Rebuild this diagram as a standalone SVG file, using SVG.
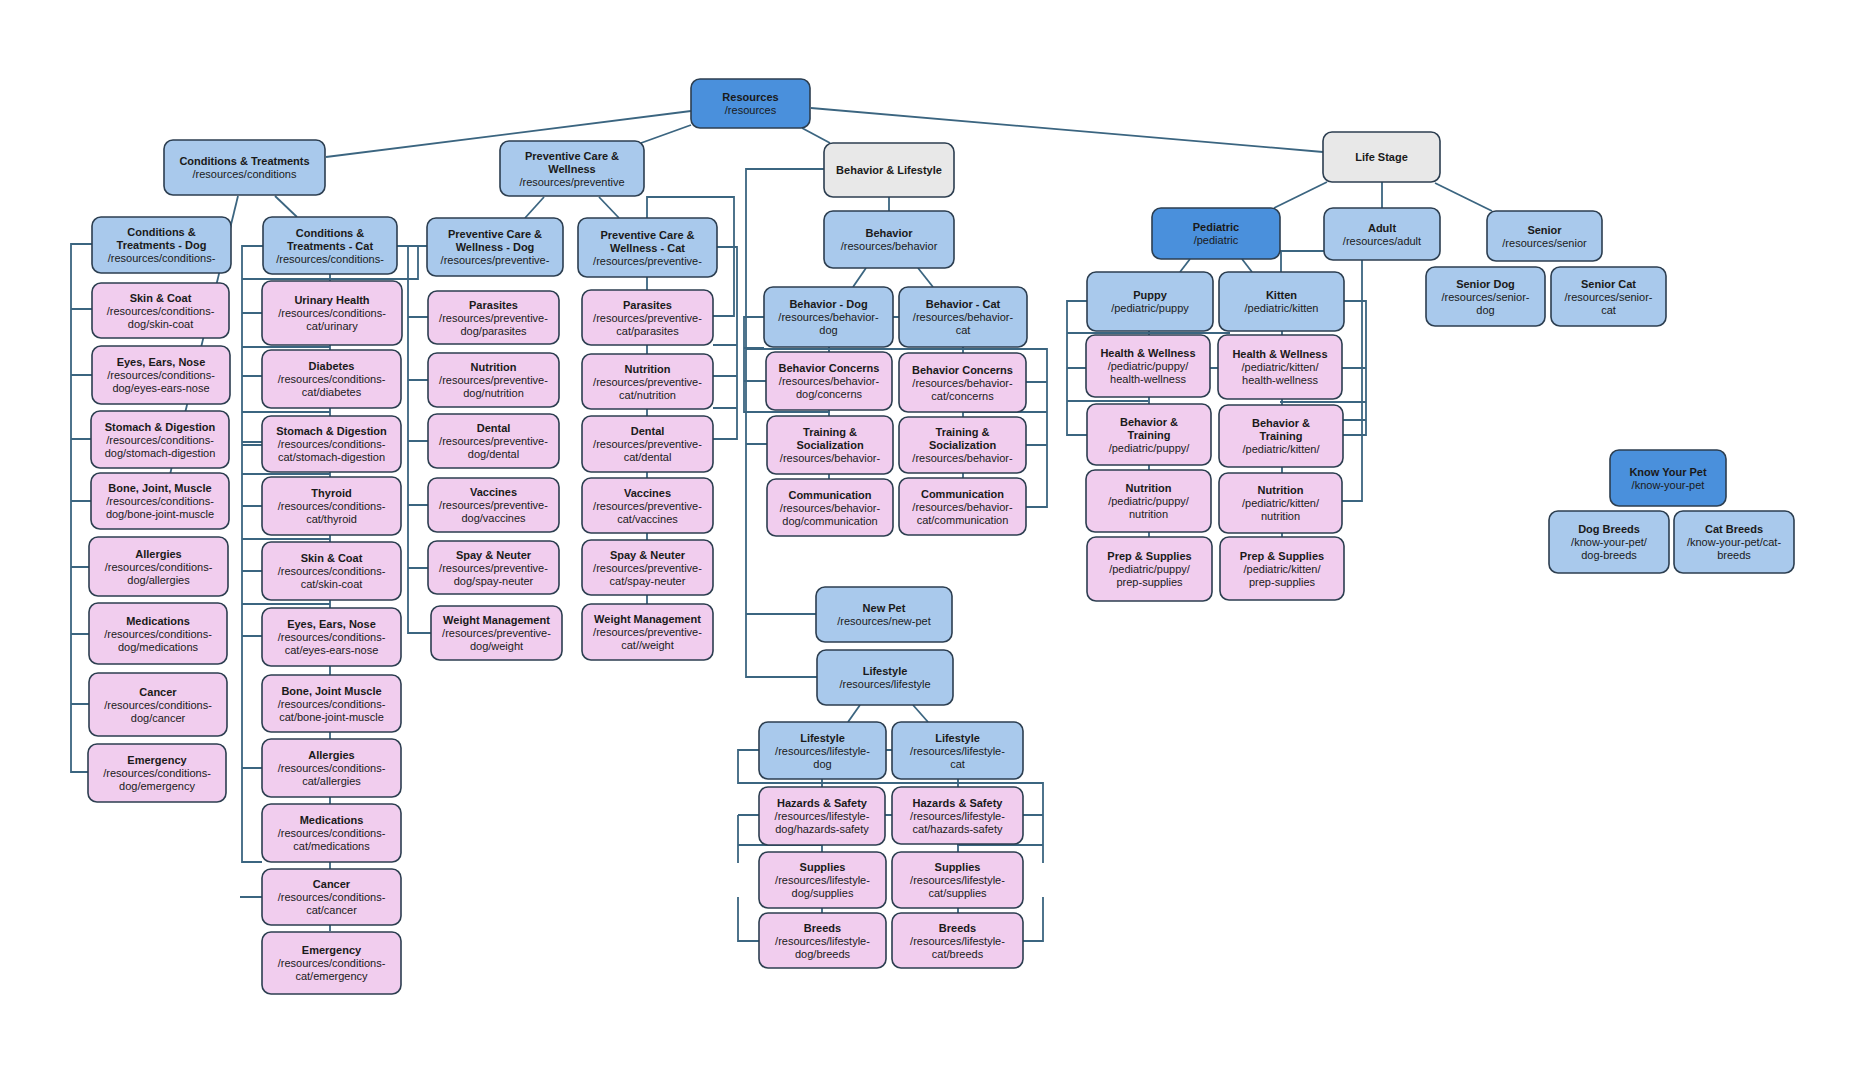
<svg xmlns="http://www.w3.org/2000/svg" width="1853" height="1074" viewBox="0 0 1853 1074">
<style>
.n rect{stroke:#2c3e50;stroke-width:1.6}
.d rect{fill:#4a90dc}
.l rect{fill:#a9c9ec}
.p rect{fill:#f1cdee}
.g rect{fill:#e8e8e8}
text{font-family:"Liberation Sans",Arial,Helvetica,sans-serif;font-size:11px;fill:#1a1a1a;text-anchor:middle}
.b{font-weight:bold}
#connectors path,#connectors line{stroke:#3b6580;stroke-width:1.8;fill:none}
</style>
<rect x="0" y="0" width="1853" height="1074" fill="#ffffff"/>
<g id="connectors">
<line x1="691" y1="111" x2="326" y2="157"/>
<line x1="691" y1="125" x2="641" y2="143"/>
<line x1="802" y1="128" x2="830" y2="143"/>
<line x1="811" y1="108" x2="1323" y2="152"/>
<line x1="238" y1="196" x2="165" y2="495"/>
<line x1="275" y1="196" x2="297" y2="217"/>
<line x1="544" y1="197" x2="525" y2="218"/>
<line x1="599" y1="197" x2="619" y2="218"/>
<line x1="889" y1="197" x2="889" y2="211"/>
<line x1="866" y1="268" x2="853" y2="287"/>
<line x1="918" y1="268" x2="933" y2="287"/>
<line x1="860" y1="705" x2="848" y2="722"/>
<line x1="913" y1="705" x2="928" y2="722"/>
<line x1="1327" y1="182" x2="1274" y2="208"/>
<line x1="1382" y1="182" x2="1382" y2="208"/>
<line x1="1435" y1="183" x2="1492" y2="211"/>
<line x1="1190" y1="259" x2="1180" y2="272"/>
<line x1="1242" y1="259" x2="1252" y2="272"/>
<path d="M92,244 H71 V772 H88 M71,309 H92 M71,375 H92 M71,439 H91 M71,501 H91 M71,567 H89 M71,634 H89 M71,704 H89"/>
<path d="M263,246 H242 V862 H262 M242,313 H262 M242,376 H262 M242,442 H262 M242,506 H262 M242,571 H262 M242,636 H262 M242,768 H262 M240,897 H262"/>
<path d="M242,279 H418 V246 M242,347 H330 M242,445 H262 M242,412 H330 M242,474 H330 M242,539 H330 M242,604 H330 M330,274 V931"/>
<path d="M397,246 H427 M408,246 V633 H431 M408,317 H428 M408,380 H428 M408,441 H428 M408,505 H428 M408,568 H428"/>
<path d="M647,277 V604 M647,218 V197 H734 V316 H713 M717,247 H737 V439 H713 M713,345 H737 M713,376 H737 M713,408 H737"/>
<path d="M824,169 H746 V677 H817 M746,614 H816 M764,317 H744 V412 H830 M746,381 H766 M746,444 H767 M893,317 H899 M746,349 H1047 V507 H1026 M1026,382 H1047 M1026,445 H1047 M963,412 H1047 M829,347 V479 M963,347 V478 M744,348 H764 M744,381 H746"/>
<path d="M759,750 H738 V783 H1043 V863 M1043,897 V941 H1023 M738,815 H759 M738,815 V863 M738,897 V941 H759 M1023,815 H1043 M738,845 H822 M957,845 H1043 M886,750 H892 M885,815 H892 M822,779 V913 M958,779 V913"/>
<path d="M1280,251 H1324 M1281,251 V272 M1087,301 H1067 V435 H1087 M1067,368 H1086 M1067,333 H1230 M1067,401 H1148 M1210,368 H1218 M1149,331 V537 M1282,331 V537 M1344,301 H1366 V435 H1343 M1342,368 H1366 M1343,420 H1366 M1280,402 H1366 M1362,260 V501 H1342"/>
</g>
<g id="resources" class="n d"><rect x="691" y="79" width="119" height="49" rx="9"/><text x="750.5"><tspan class="b" x="750.5" y="101">Resources</tspan><tspan x="750.5" y="114">/resources</tspan></text></g>
<g id="conditions" class="n l"><rect x="164" y="140" width="161" height="55" rx="9"/><text><tspan class="b" x="244.5" y="165">Conditions &amp; Treatments</tspan><tspan x="244.5" y="178">/resources/conditions</tspan></text></g>
<g id="preventive" class="n l"><rect x="500" y="141" width="144" height="55" rx="9"/><text><tspan class="b" x="572" y="159.5">Preventive Care &amp;</tspan><tspan class="b" x="572" y="172.5">Wellness</tspan><tspan x="572" y="185.5">/resources/preventive</tspan></text></g>
<g id="behavior-lifestyle" class="n g"><rect x="824" y="143" width="130" height="54" rx="9"/><text class="b" x="889" y="174">Behavior &amp; Lifestyle</text></g>
<g id="life-stage" class="n g"><rect x="1323" y="132" width="117" height="50" rx="9"/><text class="b" x="1381.5" y="161">Life Stage</text></g>

<g id="conditions-dog" class="n l"><rect x="92" y="217" width="139" height="56" rx="9"/><text><tspan class="b" x="161.5" y="236">Conditions &amp;</tspan><tspan class="b" x="161.5" y="249">Treatments - Dog</tspan><tspan x="161.5" y="262">/resources/conditions-</tspan></text></g>
<g id="dog-skin-coat" class="n p"><rect x="92" y="283" width="137" height="55" rx="9"/><text><tspan class="b" x="160.5" y="301.5">Skin &amp; Coat</tspan><tspan x="160.5" y="314.5">/resources/conditions-</tspan><tspan x="160.5" y="327.5">dog/skin-coat</tspan></text></g>
<g id="dog-eyes" class="n p"><rect x="92" y="346" width="138" height="58" rx="9"/><text><tspan class="b" x="161" y="366">Eyes, Ears, Nose</tspan><tspan x="161" y="379">/resources/conditions-</tspan><tspan x="161" y="392">dog/eyes-ears-nose</tspan></text></g>
<g id="dog-stomach" class="n p"><rect x="91" y="411" width="138" height="57" rx="9"/><text><tspan class="b" x="160" y="430.5">Stomach &amp; Digestion</tspan><tspan x="160" y="443.5">/resources/conditions-</tspan><tspan x="160" y="456.5">dog/stomach-digestion</tspan></text></g>
<g id="dog-bone" class="n p"><rect x="91" y="473" width="138" height="56" rx="9"/><text><tspan class="b" x="160" y="492">Bone, Joint, Muscle</tspan><tspan x="160" y="505">/resources/conditions-</tspan><tspan x="160" y="518">dog/bone-joint-muscle</tspan></text></g>
<g id="dog-allergies" class="n p"><rect x="89" y="537" width="139" height="59" rx="9"/><text><tspan class="b" x="158.5" y="557.5">Allergies</tspan><tspan x="158.5" y="570.5">/resources/conditions-</tspan><tspan x="158.5" y="583.5">dog/allergies</tspan></text></g>
<g id="dog-medications" class="n p"><rect x="89" y="603" width="138" height="61" rx="9"/><text><tspan class="b" x="158" y="624.5">Medications</tspan><tspan x="158" y="637.5">/resources/conditions-</tspan><tspan x="158" y="650.5">dog/medications</tspan></text></g>
<g id="dog-cancer" class="n p"><rect x="89" y="673" width="138" height="63" rx="9"/><text><tspan class="b" x="158" y="695.5">Cancer</tspan><tspan x="158" y="708.5">/resources/conditions-</tspan><tspan x="158" y="721.5">dog/cancer</tspan></text></g>
<g id="dog-emergency" class="n p"><rect x="88" y="744" width="138" height="58" rx="9"/><text><tspan class="b" x="157" y="764">Emergency</tspan><tspan x="157" y="777">/resources/conditions-</tspan><tspan x="157" y="790">dog/emergency</tspan></text></g>

<g id="conditions-cat" class="n l"><rect x="263" y="217" width="134" height="57" rx="9"/><text><tspan class="b" x="330" y="236.5">Conditions &amp;</tspan><tspan class="b" x="330" y="249.5">Treatments - Cat</tspan><tspan x="330" y="262.5">/resources/conditions-</tspan></text></g>
<g id="cat-urinary" class="n p"><rect x="262" y="281" width="140" height="64" rx="9"/><text><tspan class="b" x="332" y="304">Urinary Health</tspan><tspan x="332" y="317">/resources/conditions-</tspan><tspan x="332" y="330">cat/urinary</tspan></text></g>
<g id="cat-diabetes" class="n p"><rect x="262" y="350" width="139" height="58" rx="9"/><text><tspan class="b" x="331.5" y="370">Diabetes</tspan><tspan x="331.5" y="383">/resources/conditions-</tspan><tspan x="331.5" y="396">cat/diabetes</tspan></text></g>
<g id="cat-stomach" class="n p"><rect x="262" y="416" width="139" height="56" rx="9"/><text><tspan class="b" x="331.5" y="435">Stomach &amp; Digestion</tspan><tspan x="331.5" y="448">/resources/conditions-</tspan><tspan x="331.5" y="461">cat/stomach-digestion</tspan></text></g>
<g id="cat-thyroid" class="n p"><rect x="262" y="477" width="139" height="58" rx="9"/><text><tspan class="b" x="331.5" y="497">Thyroid</tspan><tspan x="331.5" y="510">/resources/conditions-</tspan><tspan x="331.5" y="523">cat/thyroid</tspan></text></g>
<g id="cat-skin-coat" class="n p"><rect x="262" y="542" width="139" height="58" rx="9"/><text><tspan class="b" x="331.5" y="562">Skin &amp; Coat</tspan><tspan x="331.5" y="575">/resources/conditions-</tspan><tspan x="331.5" y="588">cat/skin-coat</tspan></text></g>
<g id="cat-eyes" class="n p"><rect x="262" y="608" width="139" height="58" rx="9"/><text><tspan class="b" x="331.5" y="628">Eyes, Ears, Nose</tspan><tspan x="331.5" y="641">/resources/conditions-</tspan><tspan x="331.5" y="654">cat/eyes-ears-nose</tspan></text></g>
<g id="cat-bone" class="n p"><rect x="262" y="675" width="139" height="57" rx="9"/><text><tspan class="b" x="331.5" y="694.5">Bone, Joint Muscle</tspan><tspan x="331.5" y="707.5">/resources/conditions-</tspan><tspan x="331.5" y="720.5">cat/bone-joint-muscle</tspan></text></g>
<g id="cat-allergies" class="n p"><rect x="262" y="739" width="139" height="58" rx="9"/><text><tspan class="b" x="331.5" y="759">Allergies</tspan><tspan x="331.5" y="772">/resources/conditions-</tspan><tspan x="331.5" y="785">cat/allergies</tspan></text></g>
<g id="cat-medications" class="n p"><rect x="262" y="804" width="139" height="58" rx="9"/><text><tspan class="b" x="331.5" y="824">Medications</tspan><tspan x="331.5" y="837">/resources/conditions-</tspan><tspan x="331.5" y="850">cat/medications</tspan></text></g>
<g id="cat-cancer" class="n p"><rect x="262" y="869" width="139" height="56" rx="9"/><text><tspan class="b" x="331.5" y="888">Cancer</tspan><tspan x="331.5" y="901">/resources/conditions-</tspan><tspan x="331.5" y="914">cat/cancer</tspan></text></g>
<g id="cat-emergency" class="n p"><rect x="262" y="932" width="139" height="62" rx="9"/><text><tspan class="b" x="331.5" y="954">Emergency</tspan><tspan x="331.5" y="967">/resources/conditions-</tspan><tspan x="331.5" y="980">cat/emergency</tspan></text></g>

<g id="preventive-dog" class="n l"><rect x="427" y="218" width="136" height="58" rx="9"/><text><tspan class="b" x="495" y="238">Preventive Care &amp;</tspan><tspan class="b" x="495" y="251">Wellness - Dog</tspan><tspan x="495" y="264">/resources/preventive-</tspan></text></g>
<g id="dog-parasites" class="n p"><rect x="428" y="291" width="131" height="53" rx="9"/><text><tspan class="b" x="493.5" y="308.5">Parasites</tspan><tspan x="493.5" y="321.5">/resources/preventive-</tspan><tspan x="493.5" y="334.5">dog/parasites</tspan></text></g>
<g id="dog-nutrition" class="n p"><rect x="428" y="353" width="131" height="54" rx="9"/><text><tspan class="b" x="493.5" y="371">Nutrition</tspan><tspan x="493.5" y="384">/resources/preventive-</tspan><tspan x="493.5" y="397">dog/nutrition</tspan></text></g>
<g id="dog-dental" class="n p"><rect x="428" y="414" width="131" height="54" rx="9"/><text><tspan class="b" x="493.5" y="432">Dental</tspan><tspan x="493.5" y="445">/resources/preventive-</tspan><tspan x="493.5" y="458">dog/dental</tspan></text></g>
<g id="dog-vaccines" class="n p"><rect x="428" y="478" width="131" height="54" rx="9"/><text><tspan class="b" x="493.5" y="496">Vaccines</tspan><tspan x="493.5" y="509">/resources/preventive-</tspan><tspan x="493.5" y="522">dog/vaccines</tspan></text></g>
<g id="dog-spay-neuter" class="n p"><rect x="428" y="541" width="131" height="53" rx="9"/><text><tspan class="b" x="493.5" y="558.5">Spay &amp; Neuter</tspan><tspan x="493.5" y="571.5">/resources/preventive-</tspan><tspan x="493.5" y="584.5">dog/spay-neuter</tspan></text></g>
<g id="dog-weight" class="n p"><rect x="431" y="606" width="131" height="54" rx="9"/><text><tspan class="b" x="496.5" y="624">Weight Management</tspan><tspan x="496.5" y="637">/resources/preventive-</tspan><tspan x="496.5" y="650">dog/weight</tspan></text></g>

<g id="preventive-cat" class="n l"><rect x="578" y="218" width="139" height="59" rx="9"/><text><tspan class="b" x="647.5" y="238.5">Preventive Care &amp;</tspan><tspan class="b" x="647.5" y="251.5">Wellness - Cat</tspan><tspan x="647.5" y="264.5">/resources/preventive-</tspan></text></g>
<g id="cat-parasites" class="n p"><rect x="582" y="290" width="131" height="55" rx="9"/><text><tspan class="b" x="647.5" y="308.5">Parasites</tspan><tspan x="647.5" y="321.5">/resources/preventive-</tspan><tspan x="647.5" y="334.5">cat/parasites</tspan></text></g>
<g id="cat-nutrition" class="n p"><rect x="582" y="354" width="131" height="55" rx="9"/><text><tspan class="b" x="647.5" y="372.5">Nutrition</tspan><tspan x="647.5" y="385.5">/resources/preventive-</tspan><tspan x="647.5" y="398.5">cat/nutrition</tspan></text></g>
<g id="cat-dental" class="n p"><rect x="582" y="416" width="131" height="56" rx="9"/><text><tspan class="b" x="647.5" y="435">Dental</tspan><tspan x="647.5" y="448">/resources/preventive-</tspan><tspan x="647.5" y="461">cat/dental</tspan></text></g>
<g id="cat-vaccines" class="n p"><rect x="582" y="478" width="131" height="55" rx="9"/><text><tspan class="b" x="647.5" y="496.5">Vaccines</tspan><tspan x="647.5" y="509.5">/resources/preventive-</tspan><tspan x="647.5" y="522.5">cat/vaccines</tspan></text></g>
<g id="cat-spay-neuter" class="n p"><rect x="582" y="540" width="131" height="55" rx="9"/><text><tspan class="b" x="647.5" y="558.5">Spay &amp; Neuter</tspan><tspan x="647.5" y="571.5">/resources/preventive-</tspan><tspan x="647.5" y="584.5">cat/spay-neuter</tspan></text></g>
<g id="cat-weight" class="n p"><rect x="582" y="604" width="131" height="56" rx="9"/><text><tspan class="b" x="647.5" y="623">Weight Management</tspan><tspan x="647.5" y="636">/resources/preventive-</tspan><tspan x="647.5" y="649">cat//weight</tspan></text></g>

<g id="behavior" class="n l"><rect x="824" y="211" width="130" height="57" rx="9"/><text><tspan class="b" x="889" y="237">Behavior</tspan><tspan x="889" y="250">/resources/behavior</tspan></text></g>
<g id="behavior-dog" class="n l"><rect x="764" y="287" width="129" height="60" rx="9"/><text><tspan class="b" x="828.5" y="308">Behavior - Dog</tspan><tspan x="828.5" y="321">/resources/behavior-</tspan><tspan x="828.5" y="334">dog</tspan></text></g>
<g id="behavior-cat" class="n l"><rect x="899" y="287" width="128" height="60" rx="9"/><text><tspan class="b" x="963" y="308">Behavior - Cat</tspan><tspan x="963" y="321">/resources/behavior-</tspan><tspan x="963" y="334">cat</tspan></text></g>
<g id="dog-concerns" class="n p"><rect x="766" y="352" width="126" height="58" rx="9"/><text><tspan class="b" x="829" y="372">Behavior Concerns</tspan><tspan x="829" y="385">/resources/behavior-</tspan><tspan x="829" y="398">dog/concerns</tspan></text></g>
<g id="cat-concerns" class="n p"><rect x="899" y="353" width="127" height="59" rx="9"/><text><tspan class="b" x="962.5" y="373.5">Behavior Concerns</tspan><tspan x="962.5" y="386.5">/resources/behavior-</tspan><tspan x="962.5" y="399.5">cat/concerns</tspan></text></g>
<g id="dog-training" class="n p"><rect x="767" y="416" width="126" height="58" rx="9"/><text><tspan class="b" x="830" y="436">Training &amp;</tspan><tspan class="b" x="830" y="449">Socialization</tspan><tspan x="830" y="462">/resources/behavior-</tspan></text></g>
<g id="cat-training" class="n p"><rect x="899" y="417" width="127" height="56" rx="9"/><text><tspan class="b" x="962.5" y="436">Training &amp;</tspan><tspan class="b" x="962.5" y="449">Socialization</tspan><tspan x="962.5" y="462">/resources/behavior-</tspan></text></g>
<g id="dog-communication" class="n p"><rect x="767" y="479" width="126" height="57" rx="9"/><text><tspan class="b" x="830" y="498.5">Communication</tspan><tspan x="830" y="511.5">/resources/behavior-</tspan><tspan x="830" y="524.5">dog/communication</tspan></text></g>
<g id="cat-communication" class="n p"><rect x="899" y="478" width="127" height="57" rx="9"/><text><tspan class="b" x="962.5" y="497.5">Communication</tspan><tspan x="962.5" y="510.5">/resources/behavior-</tspan><tspan x="962.5" y="523.5">cat/communication</tspan></text></g>
<g id="new-pet" class="n l"><rect x="816" y="587" width="136" height="55" rx="9"/><text><tspan class="b" x="884" y="612">New Pet</tspan><tspan x="884" y="625">/resources/new-pet</tspan></text></g>
<g id="lifestyle" class="n l"><rect x="817" y="650" width="136" height="55" rx="9"/><text><tspan class="b" x="885" y="675">Lifestyle</tspan><tspan x="885" y="688">/resources/lifestyle</tspan></text></g>
<g id="lifestyle-dog" class="n l"><rect x="759" y="722" width="127" height="57" rx="9"/><text><tspan class="b" x="822.5" y="741.5">Lifestyle</tspan><tspan x="822.5" y="754.5">/resources/lifestyle-</tspan><tspan x="822.5" y="767.5">dog</tspan></text></g>
<g id="lifestyle-cat" class="n l"><rect x="892" y="722" width="131" height="57" rx="9"/><text><tspan class="b" x="957.5" y="741.5">Lifestyle</tspan><tspan x="957.5" y="754.5">/resources/lifestyle-</tspan><tspan x="957.5" y="767.5">cat</tspan></text></g>
<g id="dog-hazards" class="n p"><rect x="759" y="787" width="126" height="58" rx="9"/><text><tspan class="b" x="822" y="807">Hazards &amp; Safety</tspan><tspan x="822" y="820">/resources/lifestyle-</tspan><tspan x="822" y="833">dog/hazards-safety</tspan></text></g>
<g id="cat-hazards" class="n p"><rect x="892" y="787" width="131" height="57" rx="9"/><text><tspan class="b" x="957.5" y="806.5">Hazards &amp; Safety</tspan><tspan x="957.5" y="819.5">/resources/lifestyle-</tspan><tspan x="957.5" y="832.5">cat/hazards-safety</tspan></text></g>
<g id="dog-supplies" class="n p"><rect x="759" y="852" width="127" height="56" rx="9"/><text><tspan class="b" x="822.5" y="871">Supplies</tspan><tspan x="822.5" y="884">/resources/lifestyle-</tspan><tspan x="822.5" y="897">dog/supplies</tspan></text></g>
<g id="cat-supplies" class="n p"><rect x="892" y="852" width="131" height="56" rx="9"/><text><tspan class="b" x="957.5" y="871">Supplies</tspan><tspan x="957.5" y="884">/resources/lifestyle-</tspan><tspan x="957.5" y="897">cat/supplies</tspan></text></g>
<g id="dog-breeds-ls" class="n p"><rect x="759" y="913" width="127" height="55" rx="9"/><text><tspan class="b" x="822.5" y="931.5">Breeds</tspan><tspan x="822.5" y="944.5">/resources/lifestyle-</tspan><tspan x="822.5" y="957.5">dog/breeds</tspan></text></g>
<g id="cat-breeds-ls" class="n p"><rect x="892" y="913" width="131" height="55" rx="9"/><text><tspan class="b" x="957.5" y="931.5">Breeds</tspan><tspan x="957.5" y="944.5">/resources/lifestyle-</tspan><tspan x="957.5" y="957.5">cat/breeds</tspan></text></g>

<g id="pediatric" class="n d"><rect x="1152" y="208" width="128" height="51" rx="9"/><text><tspan class="b" x="1216" y="231">Pediatric</tspan><tspan x="1216" y="244">/pediatric</tspan></text></g>
<g id="adult" class="n l"><rect x="1324" y="208" width="116" height="52" rx="9"/><text><tspan class="b" x="1382" y="231.5">Adult</tspan><tspan x="1382" y="244.5">/resources/adult</tspan></text></g>
<g id="senior" class="n l"><rect x="1487" y="211" width="115" height="50" rx="9"/><text><tspan class="b" x="1544.5" y="233.5">Senior</tspan><tspan x="1544.5" y="246.5">/resources/senior</tspan></text></g>
<g id="senior-dog" class="n l"><rect x="1426" y="267" width="119" height="59" rx="9"/><text><tspan class="b" x="1485.5" y="287.5">Senior Dog</tspan><tspan x="1485.5" y="300.5">/resources/senior-</tspan><tspan x="1485.5" y="313.5">dog</tspan></text></g>
<g id="senior-cat" class="n l"><rect x="1551" y="267" width="115" height="59" rx="9"/><text><tspan class="b" x="1608.5" y="287.5">Senior Cat</tspan><tspan x="1608.5" y="300.5">/resources/senior-</tspan><tspan x="1608.5" y="313.5">cat</tspan></text></g>
<g id="puppy" class="n l"><rect x="1087" y="272" width="126" height="59" rx="9"/><text><tspan class="b" x="1150" y="299">Puppy</tspan><tspan x="1150" y="312">/pediatric/puppy</tspan></text></g>
<g id="kitten" class="n l"><rect x="1219" y="272" width="125" height="59" rx="9"/><text><tspan class="b" x="1281.5" y="299">Kitten</tspan><tspan x="1281.5" y="312">/pediatric/kitten</tspan></text></g>
<g id="puppy-health" class="n p"><rect x="1086" y="335" width="124" height="62" rx="9"/><text><tspan class="b" x="1148" y="357">Health &amp; Wellness</tspan><tspan x="1148" y="370">/pediatric/puppy/</tspan><tspan x="1148" y="383">health-wellness</tspan></text></g>
<g id="kitten-health" class="n p"><rect x="1218" y="335" width="124" height="64" rx="9"/><text><tspan class="b" x="1280" y="358">Health &amp; Wellness</tspan><tspan x="1280" y="371">/pediatric/kitten/</tspan><tspan x="1280" y="384">health-wellness</tspan></text></g>
<g id="puppy-behavior" class="n p"><rect x="1087" y="404" width="124" height="61" rx="9"/><text><tspan class="b" x="1149" y="425.5">Behavior &amp;</tspan><tspan class="b" x="1149" y="438.5">Training</tspan><tspan x="1149" y="451.5">/pediatric/puppy/</tspan></text></g>
<g id="kitten-behavior" class="n p"><rect x="1219" y="405" width="124" height="62" rx="9"/><text><tspan class="b" x="1281" y="427">Behavior &amp;</tspan><tspan class="b" x="1281" y="440">Training</tspan><tspan x="1281" y="453">/pediatric/kitten/</tspan></text></g>
<g id="puppy-nutrition" class="n p"><rect x="1086" y="470" width="125" height="62" rx="9"/><text><tspan class="b" x="1148.5" y="492">Nutrition</tspan><tspan x="1148.5" y="505">/pediatric/puppy/</tspan><tspan x="1148.5" y="518">nutrition</tspan></text></g>
<g id="kitten-nutrition" class="n p"><rect x="1219" y="473" width="123" height="60" rx="9"/><text><tspan class="b" x="1280.5" y="494">Nutrition</tspan><tspan x="1280.5" y="507">/pediatric/kitten/</tspan><tspan x="1280.5" y="520">nutrition</tspan></text></g>
<g id="puppy-prep" class="n p"><rect x="1087" y="537" width="125" height="64" rx="9"/><text><tspan class="b" x="1149.5" y="560">Prep &amp; Supplies</tspan><tspan x="1149.5" y="573">/pediatric/puppy/</tspan><tspan x="1149.5" y="586">prep-supplies</tspan></text></g>
<g id="kitten-prep" class="n p"><rect x="1220" y="537" width="124" height="63" rx="9"/><text><tspan class="b" x="1282" y="559.5">Prep &amp; Supplies</tspan><tspan x="1282" y="572.5">/pediatric/kitten/</tspan><tspan x="1282" y="585.5">prep-supplies</tspan></text></g>

<g id="know-your-pet" class="n d"><rect x="1610" y="450" width="116" height="56" rx="9"/><text><tspan class="b" x="1668" y="475.5">Know Your Pet</tspan><tspan x="1668" y="488.5">/know-your-pet</tspan></text></g>
<g id="dog-breeds" class="n l"><rect x="1549" y="511" width="120" height="62" rx="9"/><text><tspan class="b" x="1609" y="533">Dog Breeds</tspan><tspan x="1609" y="546">/know-your-pet/</tspan><tspan x="1609" y="559">dog-breeds</tspan></text></g>
<g id="cat-breeds" class="n l"><rect x="1674" y="511" width="120" height="62" rx="9"/><text><tspan class="b" x="1734" y="533">Cat Breeds</tspan><tspan x="1734" y="546">/know-your-pet/cat-</tspan><tspan x="1734" y="559">breeds</tspan></text></g>
</svg>
